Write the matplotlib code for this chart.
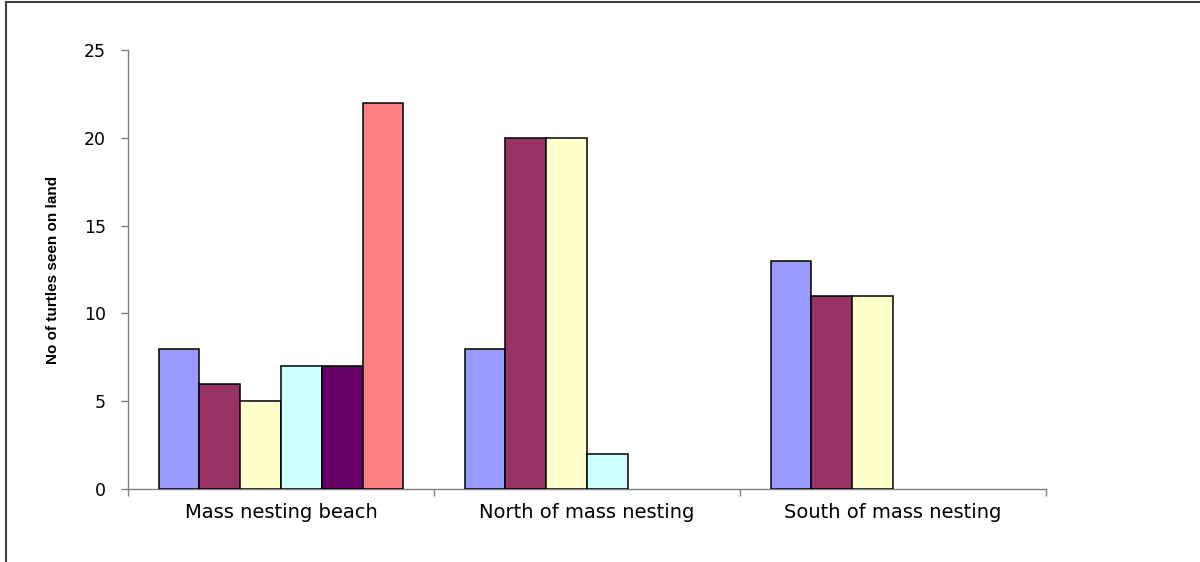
import matplotlib
matplotlib.use("Agg")
import matplotlib.pyplot as plt
from matplotlib.patches import Rectangle

sites = ["Mass nesting beach", "North of mass nesting", "South of mass nesting"]
series_1 = [8, 8, 13]
series_2 = [6, 20, 11]
series_3 = [5, 20, 11]
series_4 = [7, 2, 0]
series_5 = [7, 0, 0]
series_6 = [22, 0, 0]
all_series = [series_1, series_2, series_3, series_4, series_5, series_6]
colors = ["#9999FF", "#993366", "#FFFFCC", "#CCFFFF", "#660066", "#FF8080"]

fig = plt.figure(figsize=(12, 5.62), dpi=100)
ax = fig.add_axes([128 / 1200, 1 - 489 / 562, 918 / 1200, 439 / 562])

# excel style: gap width 150% between groups
n = len(all_series)
w = 1 / (n + 1.5)
for i, vals in enumerate(all_series):
    xs = [c + (i - (n - 1) / 2) * w for c, v in enumerate(vals) if v != 0]
    hs = [v for v in vals if v != 0]
    ax.bar(xs, hs, width=w, color=colors[i], edgecolor="black", linewidth=1.1, zorder=3)

ax.set_xlim(-0.5, len(sites) - 0.5)
ax.set_ylim(0, 25)
ax.set_yticks(range(0, 26, 5))
ax.set_yticklabels([str(v) for v in range(0, 26, 5)], fontsize=12.5, family="DejaVu Sans")
ax.set_xticks([c - 0.5 for c in range(len(sites) + 1)])
ax.set_xticklabels([])
for c, name in enumerate(sites):
    ax.text(c, -0.8, name, ha="center", va="top", fontsize=14, family="DejaVu Sans")

for s in ["top", "right"]:
    ax.spines[s].set_visible(False)
for s in ["left", "bottom"]:
    ax.spines[s].set_color("#808080")
    ax.spines[s].set_linewidth(1.0)
ax.tick_params(axis="both", direction="out", length=5, color="#808080", width=1.0)
ax.tick_params(axis="y", pad=11)

ax.set_ylabel("No of turtles seen on land", fontsize=11, fontweight="bold",
              family=["Liberation Sans Narrow", "Liberation Sans"])
ax.yaxis.set_label_coords(-68 / 918, 0.5)

# outer chart border
fig.patches.append(Rectangle((6 / 1200, -0.5), 1.5, 1.5 - 1.5 / 562,
                             transform=fig.transFigure, fill=False,
                             edgecolor="#404040", linewidth=1.5))

fig.savefig("out.png", dpi=100)
